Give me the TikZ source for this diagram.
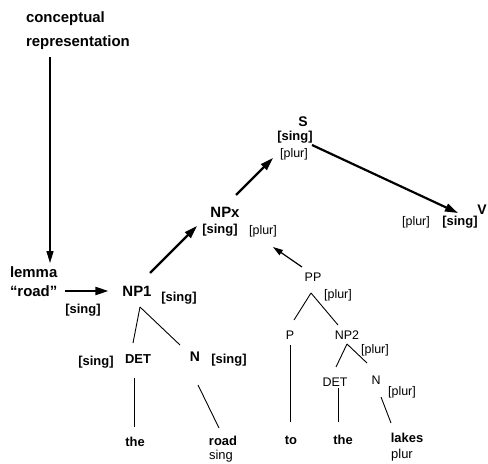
\documentclass[tikz,border=0pt]{standalone}
\usepackage{fontspec}
\setmainfont{Liberation Sans}
\usetikzlibrary{arrows.meta,calc}

\tikzset{
  every node/.style={inner sep=0pt, outer sep=0pt},
  hv/.style={font=\bfseries\fontsize{15}{19}\selectfont},
  tg/.style={font=\bfseries\fontsize{13}{15}\selectfont},
  lt/.style={font=\fontsize{12.5}{15}\selectfont},
  bigarrow/.style={line width=2.2bp, -{Triangle[length=13bp,width=8bp]}},
  midarrow/.style={line width=1.4bp, -{Triangle[length=12bp,width=7bp]}},
  thinarrow/.style={line width=1.2bp, -{Triangle[length=10bp,width=6bp]}},
  branch/.style={line width=0.9bp}
}

\begin{document}
\begin{tikzpicture}[x=1bp,y=-1bp]
  \useasboundingbox (0,0) rectangle (488,464);

  % message source and lemma
  \node[hv, align=left, anchor=west, font=\bfseries\fontsize{15}{24}\selectfont] (concept) at (26,31) {conceptual\\representation};
  \node[hv, align=left, anchor=west] (lemma) at (10,282) {lemma\\“road”};
  \node[tg] (s1a) at (83,310) {[sing]};

  % top of the phrase structure
  \node[hv] (np1) at (137,291) {NP1};
  \node[tg] (s1b) at (179,298) {[sing]};
  \node[hv] (npx) at (225,212) {NPx};
  \node[tg] (npxs) at (220,230) {[sing]};
  \node[lt] (npxp) at (263,231) {[plur]};
  \node[hv, font=\bfseries\fontsize{14}{16}\selectfont] (s) at (303,122) {S};
  \node[tg] (ss) at (295,137) {[sing]};
  \node[lt] (sp) at (294,154) {[plur]};
  \node[hv, font=\bfseries\fontsize{14}{16}\selectfont] (v) at (482,210) {V};
  \node[lt] (vp) at (416,222) {[plur]};
  \node[tg] (vs) at (460,222) {[sing]};

  % subject head noun phrase
  \node[tg] (det1) at (138,359) {DET};
  \node[tg] (det1s) at (96,362) {[sing]};
  \node[hv, font=\bfseries\fontsize{14}{16}\selectfont] (n1) at (195,357) {N};
  \node[tg] (n1s) at (229,360) {[sing]};
  \node[tg] (the1) at (135,442) {the};
  \node[tg] (road) at (223,441) {road};
  \node[lt, font=\fontsize{13}{15}\selectfont] (sing) at (221,456) {sing};

  % prepositional phrase
  \node[lt] (pp) at (313,277) {PP};
  \node[lt] (ppp) at (338,295) {[plur]};
  \node[lt] (p) at (290,335) {P};
  \node[lt] (np2) at (347,335) {NP2};
  \node[lt] (np2p) at (375,350) {[plur]};
  \node[lt] (det2) at (335,382) {DET};
  \node[lt] (n2) at (376,380) {N};
  \node[lt] (n2p) at (402,392) {[plur]};
  \node[tg] (to) at (291,440) {to};
  \node[tg] (the2) at (343,440) {the};
  \node[tg] (lakes) at (407,438) {lakes};
  \node[lt, font=\fontsize{13}{15}\selectfont] (plur) at (402,455) {plur};

  % number flow
  \draw[midarrow] ($(concept.south west)+(24,7)$) -- ($(lemma.north west)+(40,-4)$);
  \draw[bigarrow] ($(lemma.east |- np1)+(8,0)$) -- ($(np1.west)+(-14,0)$);
  \draw[bigarrow] ($(np1)+(13,-18)$) -- ($(npx)+(-28,14)$);
  \draw[bigarrow] ($(npx)+(11,-17)$) -- ($(sp)+(-21,4)$);
  \draw[bigarrow] ($(ss)+(17,8)$) -- ($(vs)+(-2,-9)$);
  \draw[thinarrow] ($(pp)+(-11,-10)$) -- ($(npxp)+(10,16)$);

  % tree branches
  \draw[branch] ($(np1)+(3,16)$) -- ($(det1)+(-5,-16)$);
  \draw[branch] ($(np1)+(3,16)$) -- ($(n1)+(-15,-12)$);
  \draw[branch] ($(det1)+(-4,19)$) -- ($(the1)+(-1,-15)$);
  \draw[branch] ($(n1)+(3,28)$) -- ($(road)+(-4,-13)$);
  \draw[branch] ($(pp)+(-2,16)$) -- ($(p)+(4,-15)$);
  \draw[branch] ($(pp)+(-2,16)$) -- ($(np2)+(-9,-10)$);
  \draw[branch] ($(p)+(0,10)$) -- ($(to)+(-1,-18)$);
  \draw[branch] ($(np2)+(0,9)$) -- ($(det2)+(1,-15)$);
  \draw[branch] ($(np2)+(0,9)$) -- ($(n2)+(-9,-17)$);
  \draw[branch] ($(det2)+(3,6)$) -- ($(the2)+(-5,-18)$);
  \draw[branch] ($(n2)+(5,17)$) -- ($(lakes)+(-16,-15)$);
\end{tikzpicture}
\end{document}
